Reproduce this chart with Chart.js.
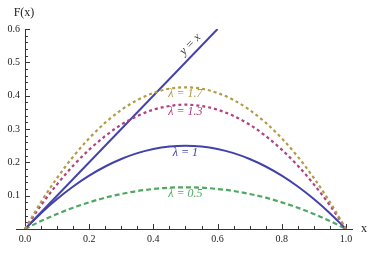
<!DOCTYPE html>
<html lang="en">
<head>
    <meta charset="UTF-8">
    <title>F(x)</title>
    <script src="https://cdn.jsdelivr.net/npm/chart.js"></script>
    <style>
        body { margin: 0; background: #fff; }
    </style>
</head>
<body>
    <canvas id="fChart" width="378" height="258"></canvas>

    <script>
        // values
        var xValues   = [0, 0.05, 0.1, 0.15, 0.2, 0.25, 0.3, 0.35, 0.4, 0.45, 0.5, 0.55, 0.6, 0.65, 0.7, 0.75, 0.8, 0.85, 0.9, 0.95, 1.0];
        var lambda17  = [0, 0.081, 0.153, 0.217, 0.272, 0.319, 0.357, 0.387, 0.408, 0.421, 0.425, 0.421, 0.408, 0.387, 0.357, 0.319, 0.272, 0.217, 0.153, 0.081, 0];
        var lambda13  = [0, 0.071, 0.134, 0.190, 0.238, 0.279, 0.313, 0.339, 0.358, 0.369, 0.373, 0.369, 0.358, 0.339, 0.313, 0.279, 0.238, 0.190, 0.134, 0.071, 0];
        var lambda1   = [0, 0.0475, 0.090, 0.1275, 0.160, 0.1875, 0.210, 0.2275, 0.240, 0.2475, 0.250, 0.2475, 0.240, 0.2275, 0.210, 0.1875, 0.160, 0.1275, 0.090, 0.0475, 0];
        var lambda05  = [0, 0.024, 0.045, 0.064, 0.080, 0.094, 0.105, 0.114, 0.120, 0.124, 0.125, 0.124, 0.120, 0.114, 0.105, 0.094, 0.080, 0.064, 0.045, 0.024, 0];
        var diagX     = [0, 0.6];
        var diagY     = [0, 0.6];

        var xTicks      = [0, 0.2, 0.4, 0.6, 0.8, 1.0];
        var xTickLabels = ['0.0', '0.2', '0.4', '0.6', '0.8', '1.0'];
        var yTicks      = [0.1, 0.2, 0.3, 0.4, 0.5, 0.6];
        var yTickLabels = ['0.1', '0.2', '0.3', '0.4', '0.5', '0.6'];

        var curveNames = ['\u03bb = 1.7', '\u03bb = 1.3', '\u03bb = 1', '\u03bb = 0.5'];

        function toPoints(xs, ys) {
            return xs.map(function(x, i) { return {x: x, y: ys[i]}; });
        }

        var colGold  = '#b39a45';
        var colPink  = '#b0407e';
        var colBlue  = '#4242aa';
        var colGreen = '#4fa862';

        // axes, ticks and text drawn Mathematica style
        var axesPlugin = {
            id: 'axesPlugin',
            beforeDatasetsDraw: function(chart) {
                var ctx = chart.ctx, xs = chart.scales.x, ys = chart.scales.y, a = chart.chartArea;
                var x0 = xs.getPixelForValue(0), y0 = ys.getPixelForValue(0);
                ctx.save();
                ctx.strokeStyle = '#333';
                ctx.lineWidth = 1;
                ctx.beginPath();
                ctx.moveTo(a.left, y0 + 0.5); ctx.lineTo(a.right, y0 + 0.5);
                ctx.moveTo(x0 + 0.5, y0); ctx.lineTo(x0 + 0.5, ys.getPixelForValue(0.6));
                // x ticks: minor every 0.05, major every 0.2
                for (var i = 0; i <= 20; i++) {
                    var px = Math.round(xs.getPixelForValue(i * 0.05)) + 0.5;
                    var len = (i % 4 === 0) ? 5 : 3;
                    ctx.moveTo(px, y0); ctx.lineTo(px, y0 - len);
                }
                // y ticks: minor every 0.02, major every 0.1
                for (var j = 1; j <= 30; j++) {
                    var py = Math.round(ys.getPixelForValue(j * 0.02)) + 0.5;
                    var l = (j % 5 === 0) ? 5 : 3;
                    ctx.moveTo(x0, py); ctx.lineTo(x0 + l, py);
                }
                ctx.stroke();

                ctx.fillStyle = '#222';
                ctx.font = '10px "Liberation Serif"';
                ctx.textAlign = 'center';
                ctx.textBaseline = 'top';
                xTicks.forEach(function(v, k) {
                    ctx.fillText(xTickLabels[k], xs.getPixelForValue(v), y0 + 5);
                });
                ctx.textAlign = 'right';
                ctx.textBaseline = 'middle';
                yTicks.forEach(function(v, k) {
                    ctx.fillText(yTickLabels[k], x0 - 5, ys.getPixelForValue(v));
                });
                ctx.font = '12px "Liberation Serif"';
                ctx.textAlign = 'center';
                ctx.fillText('F(x)', x0 - 1, ys.getPixelForValue(0.6) - 16);
                ctx.textAlign = 'left';
                ctx.fillText('x', a.right + 8, y0);
                ctx.restore();
            },
            afterDatasetsDraw: function(chart) {
                var ctx = chart.ctx, xs = chart.scales.x, ys = chart.scales.y;
                ctx.save();
                ctx.font = 'italic 12px "Liberation Serif"';
                ctx.textAlign = 'center';
                ctx.textBaseline = 'middle';
                // labels sit just under each curve's peak
                [0, 1, 2, 3].forEach(function(k) {
                    var ds = chart.data.datasets[k];
                    var peak = Math.max.apply(null, ds.data.map(function(p) { return p.y; }));
                    ctx.fillStyle = ds.borderColor;
                    ctx.fillText(curveNames[k], xs.getPixelForValue(0.5), ys.getPixelForValue(peak) + 7);
                });
                // y = x label, rotated along the line
                var ax = xs.getPixelForValue(0.535), ay = ys.getPixelForValue(0.535);
                var ang = Math.atan2(ys.getPixelForValue(0.6) - ys.getPixelForValue(0), xs.getPixelForValue(0.6) - xs.getPixelForValue(0));
                ctx.translate(ax, ay);
                ctx.rotate(ang);
                ctx.fillStyle = '#333';
                ctx.fillText('y = x', 0, -9);
                ctx.restore();
            }
        };

        var ctx = document.getElementById('fChart').getContext('2d');
        var fChart = new Chart(ctx, {
            type: 'line',
            data: {
                datasets: [
                    { data: toPoints(xValues, lambda17), borderColor: colGold, borderDash: [3, 3], borderWidth: 2.2 },
                    { data: toPoints(xValues, lambda13), borderColor: colPink, borderDash: [3, 3], borderWidth: 2.2 },
                    { data: toPoints(xValues, lambda1), borderColor: colBlue, borderWidth: 2 },
                    { data: toPoints(xValues, lambda05), borderColor: colGreen, borderDash: [5, 3], borderWidth: 2.2 },
                    { data: toPoints(diagX, diagY), borderColor: colBlue, borderWidth: 2, cubicInterpolationMode: 'default', tension: 0 }
                ]
            },
            options: {
                responsive: false,
                animation: false,
                devicePixelRatio: 1,
                layout: { padding: { left: 16, right: 25, top: 29, bottom: 29 } },
                elements: {
                    point: { radius: 0 },
                    line: { cubicInterpolationMode: 'monotone', fill: false }
                },
                plugins: { legend: { display: false }, tooltip: { enabled: false } },
                scales: {
                    x: { type: 'linear', min: -0.028, max: 1.022, display: false },
                    y: { type: 'linear', min: 0, max: 0.6, display: false }
                }
            },
            plugins: [axesPlugin]
        });
    </script>
</body>
</html>
